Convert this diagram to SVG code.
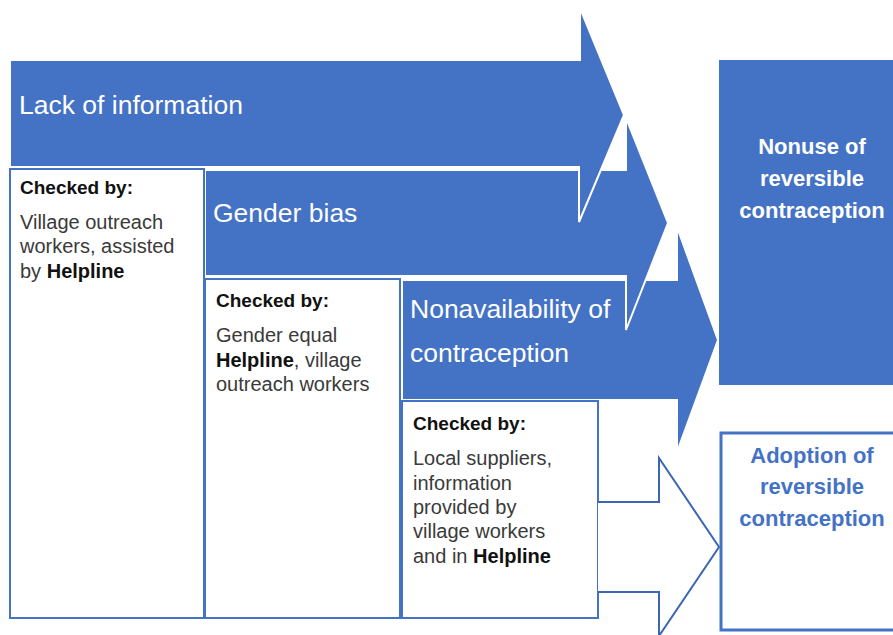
<svg xmlns="http://www.w3.org/2000/svg" width="893" height="635" viewBox="0 0 893 635">
<style>
.arrow{fill:#4472C4;stroke:#FFFFFF;stroke-width:2;stroke-linejoin:miter}
.box{fill:#FFFFFF;stroke:#4472C4;stroke-width:2}
.head{font-family:"Liberation Sans",Arial,sans-serif;font-size:26.5px;fill:#FFFFFF}
.chk{font-family:"Liberation Sans",Arial,sans-serif;font-size:19px;font-weight:bold;fill:#111111}
.body{font-family:"Liberation Sans",Arial,sans-serif;font-size:20px;fill:#3A3A3A}
.b{font-weight:bold;fill:#111111}
.out{font-family:"Liberation Sans",Arial,sans-serif;font-size:22px;font-weight:bold;text-anchor:middle}
</style>
<rect width="893" height="635" fill="#FFFFFF"/>
<g id="nonavailability">
<path class="arrow" d="M402,280 H677 V227 L718,340 L677,452 V400 H402 Z"/>
<text class="head" x="410" y="318">Nonavailability of</text>
<text class="head" x="410" y="362">contraception</text>
</g>
<g id="gender-bias">
<path class="arrow" d="M205,170 H626 V118 L668,223 L626,330 V276 H205 Z"/>
<text class="head" x="213" y="222">Gender bias</text>
</g>
<g id="lack-of-information">
<path class="arrow" d="M10,60 H580 V8 L624,115 L579,222 V167 H10 Z"/>
<text class="head" x="19" y="114">Lack of information</text>
</g>
<g id="checked-1">
<rect class="box" x="10" y="169" width="194" height="449"/>
<text class="chk" x="20" y="194">Checked by:</text>
<text class="body" x="20" y="229">Village outreach</text>
<text class="body" x="20" y="253">workers, assisted</text>
<text class="body" x="20" y="278">by <tspan class="b">Helpline</tspan></text>
</g>
<g id="checked-2">
<rect class="box" x="205" y="279" width="195" height="339"/>
<text class="chk" x="216" y="307">Checked by:</text>
<text class="body" x="216" y="342">Gender equal</text>
<text class="body" x="216" y="367"><tspan class="b">Helpline</tspan>, village</text>
<text class="body" x="216" y="391">outreach workers</text>
</g>
<g id="checked-3">
<rect class="box" x="402" y="401" width="196" height="217"/>
<text class="chk" x="413" y="430">Checked by:</text>
<text class="body" x="413" y="465">Local suppliers,</text>
<text class="body" x="413" y="490">information</text>
<text class="body" x="413" y="514">provided by</text>
<text class="body" x="413" y="538">village workers</text>
<text class="body" x="413" y="563">and in <tspan class="b">Helpline</tspan></text>
</g>
<g id="nonuse">
<rect x="719" y="60" width="180" height="325" fill="#4472C4"/>
<text class="out" x="812" y="154" fill="#FFFFFF">Nonuse of</text>
<text class="out" x="812" y="186" fill="#FFFFFF">reversible</text>
<text class="out" x="812" y="218" fill="#FFFFFF">contraception</text>
</g>
<g id="adoption">
<rect x="721" y="433" width="180" height="197" fill="#FFFFFF" stroke="#4472C4" stroke-width="3"/>
<text class="out" x="812" y="463" fill="#4472C4">Adoption of</text>
<text class="out" x="812" y="494" fill="#4472C4">reversible</text>
<text class="out" x="812" y="526" fill="#4472C4">contraception</text>
</g>
<g id="connectors">
<path d="M598,502 H659 V458 L719,547 L659,636 V592 H598" fill="#FFFFFF" stroke="#3A66B5" stroke-width="2"/>
</g>
</svg>
